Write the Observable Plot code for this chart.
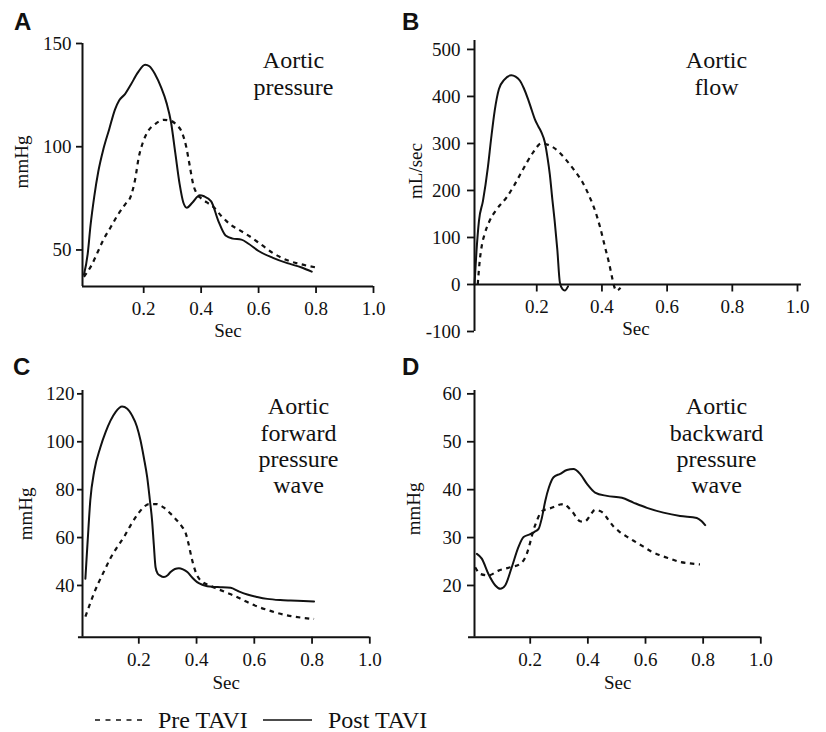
<!DOCTYPE html>
<html>
<head>
<meta charset="utf-8">
<script src="https://cdn.jsdelivr.net/npm/d3@7"></script>
<script src="https://cdn.jsdelivr.net/npm/@observablehq/plot@0.6"></script>
<style>
  html, body { margin: 0; padding: 0; background: #fff; }
  #wrap { position: relative; width: 826px; height: 732px; background: #fff; color: #111;
          font-family: "Liberation Serif", "Times New Roman", serif; overflow: hidden; }
  .panel { position: absolute; }
  .panel text { font-family: "Liberation Serif", "Times New Roman", serif; }
  .letter { position: absolute; font-family: "Liberation Sans", Arial, sans-serif; font-weight: bold;
            font-size: 24px; line-height: 24px; color: #111; }
  #legend { position: absolute; left: 0; top: 700px; }
</style>
</head>
<body>
<div id="wrap"></div>
<script>
// ---------- data (seconds, value) ----------
const xTicks = [0.2, 0.4, 0.6, 0.8, 1.0];
const pressureTicks = [50, 100, 150];
const flowTicks = [-100, 0, 100, 200, 300, 400, 500];
const forwardTicks = [40, 60, 80, 100, 120];
const backwardTicks = [20, 30, 40, 50, 60];

const panelLetters = ["A", "B", "C", "D"];
const panelTitles = ["Aortic\npressure", "Aortic\nflow", "Aortic\nforward\npressure\nwave", "Aortic\nbackward\npressure\nwave"];
const yLabels = ["mmHg", "mL/sec", "mmHg", "mmHg"];
const xLabel = "Sec";
const seriesNames = ["Pre TAVI", "Post TAVI"];

const pressurePre = [[-0.008,37],[0.02,43],[0.04,49],[0.06,55],[0.085,61],[0.11,67],[0.135,72],[0.155,76],[0.17,84],[0.183,95],[0.197,102],[0.215,107.5],[0.24,111],[0.27,113],[0.295,112.5],[0.315,110.5],[0.333,107],[0.348,100],[0.36,91],[0.372,82],[0.386,77],[0.4,75],[0.42,73],[0.445,70.5],[0.47,66.5],[0.5,62.5],[0.535,59.5],[0.57,56.5],[0.61,52.5],[0.65,48.5],[0.7,45],[0.75,43],[0.8,41.5]];
const pressurePost = [[-0.008,38],[0.005,48],[0.015,62],[0.028,76],[0.042,88],[0.06,99],[0.08,108.5],[0.1,118],[0.115,122.5],[0.135,125.5],[0.155,130],[0.18,136],[0.205,139.7],[0.22,139],[0.24,135],[0.26,129],[0.28,121],[0.295,112],[0.31,97],[0.325,82],[0.338,73],[0.35,70.5],[0.37,73],[0.395,76.5],[0.41,76],[0.435,73.5],[0.46,64],[0.485,57],[0.51,55.5],[0.54,55],[0.565,53],[0.6,49.5],[0.65,46.2],[0.7,43.6],[0.75,41.5],[0.785,39.5]];

const flowPre = [[0.019,0],[0.025,50],[0.032,85],[0.04,107],[0.055,135],[0.075,158],[0.107,185],[0.13,210],[0.15,235],[0.17,260],[0.19,282],[0.214,300],[0.235,297],[0.26,287],[0.29,265],[0.315,243],[0.34,218],[0.363,185],[0.38,155],[0.395,120],[0.41,78],[0.422,45],[0.432,12],[0.437,-3],[0.445,-13],[0.457,-7]];
const flowPost = [[0.009,0],[0.015,70],[0.0226,135],[0.035,178],[0.05,249],[0.06,310],[0.071,370],[0.084,416],[0.1,435],[0.122,445],[0.135,442],[0.148,434],[0.16,418],[0.173,395],[0.185,370],[0.194,352],[0.205,336],[0.214,324],[0.225,302],[0.233,270],[0.24,235],[0.248,180],[0.255,135],[0.263,75],[0.271,4],[0.279,-10],[0.286,-13],[0.296,-4]];

const forwardPre = [[0.015,27],[0.03,32],[0.044,36.5],[0.06,41],[0.08,46],[0.1,51],[0.125,56],[0.15,60.5],[0.171,65],[0.195,69.5],[0.217,72.7],[0.235,74],[0.26,74],[0.287,72.5],[0.31,70],[0.333,67],[0.35,64.5],[0.362,62],[0.372,57.5],[0.382,52],[0.393,47],[0.405,43.5],[0.42,41.5],[0.445,40],[0.472,38.6],[0.5,37.2],[0.529,35.8],[0.56,34],[0.587,32.4],[0.62,30.8],[0.645,29.8],[0.68,28.5],[0.714,27.5],[0.76,26.6],[0.807,26]];
const forwardPost = [[0.015,42.8],[0.019,51],[0.023,58.8],[0.032,75.5],[0.046,88],[0.067,97.7],[0.085,104],[0.102,108.8],[0.12,112.5],[0.142,114.7],[0.16,113.8],[0.177,110.9],[0.193,106.5],[0.206,100.5],[0.218,93],[0.229,85.2],[0.238,76],[0.246,67.1],[0.252,57],[0.258,47.6],[0.265,45],[0.273,44.2],[0.287,43.5],[0.3,44.3],[0.31,45.6],[0.325,46.9],[0.339,47.2],[0.353,46.7],[0.368,45.6],[0.385,43.3],[0.402,41.4],[0.42,40.3],[0.437,39.7],[0.46,39.4],[0.483,39.3],[0.518,39.0],[0.545,37.6],[0.576,36.2],[0.61,35.2],[0.645,34.4],[0.69,33.9],[0.726,33.7],[0.77,33.5],[0.807,33.3]];

const backwardPre = [[0.009,23.8],[0.027,22.4],[0.055,22.1],[0.09,23.1],[0.131,23.8],[0.165,24.5],[0.188,26.6],[0.2,29],[0.211,31.5],[0.223,33.5],[0.235,35.1],[0.25,35.8],[0.269,36.1],[0.29,36.6],[0.304,36.9],[0.318,37],[0.327,36.6],[0.34,35.8],[0.35,35.1],[0.362,34],[0.373,33.4],[0.385,33.3],[0.397,33.7],[0.41,34.8],[0.425,35.8],[0.44,35.6],[0.454,35.1],[0.47,33.8],[0.489,32.3],[0.51,31.2],[0.535,30.2],[0.565,29.1],[0.593,28.1],[0.62,27.1],[0.651,26.3],[0.685,25.6],[0.72,24.9],[0.755,24.6],[0.789,24.4]];
const backwardPost = [[0.015,26.6],[0.032,25.6],[0.055,22.4],[0.079,20],[0.096,19.3],[0.113,20],[0.136,23.8],[0.159,28],[0.177,30.1],[0.2,30.7],[0.215,31.2],[0.229,31.8],[0.24,34],[0.252,37.6],[0.265,40.5],[0.281,42.6],[0.304,43.3],[0.327,44.1],[0.35,44.3],[0.373,43.3],[0.397,41.2],[0.425,39.4],[0.466,38.7],[0.518,38.3],[0.558,37.3],[0.605,36.2],[0.662,35.2],[0.72,34.5],[0.778,34.1],[0.795,33.4],[0.807,32.6]];

// ---------- drawing ----------
const ink = "#111";
const serif = "Liberation Serif, Times New Roman, serif";
const rows = a => a.map(([t, v]) => ({t, v}));
const wrap = document.getElementById("wrap");

function panel(cfg) {
  const [mT, mR, mB, mL] = cfg.margins;
  const marks = [
    // y axis line
    Plot.ruleX([{x: cfg.xDomain[0]}], {x: "x", stroke: ink, strokeWidth: 2}),
    // x axis line
    Plot.ruleY([{y: cfg.xAxisAt, x1: cfg.xAxisFrom, x2: cfg.xAxisTo}], {y: "y", x1: "x1", x2: "x2", stroke: ink, strokeWidth: 2}),
    Plot.axisY({ticks: cfg.yTicks, tickFormat: d => String(d), tickSize: cfg.yTickSize, tickPadding: cfg.yTickPadding,
                fontSize: 19, fontFamily: serif, fontVariant: "normal", label: null, strokeWidth: 1.8}),
    Plot.line(rows(cfg.pre), {x: "t", y: "v", curve: "monotone-x", stroke: ink, strokeWidth: 2.2,
                              strokeDasharray: "4.5,4.5", strokeLinecap: "butt"}),
    Plot.line(rows(cfg.post), {x: "t", y: "v", curve: "monotone-x", stroke: ink, strokeWidth: 2}),
    Plot.text([cfg.title], {text: d => d, frameAnchor: "top-left", dx: cfg.titleDx, dy: cfg.titleDy,
                            lineAnchor: "top", textAnchor: "middle", fontSize: 24, lineHeight: 1.1,
                            fontFamily: serif, fill: ink}),
    Plot.text([cfg.yLabel], {text: d => d, frameAnchor: "left", rotate: -90, dx: cfg.yLabelDx, dy: cfg.yLabelDy,
                             textAnchor: "middle", lineAnchor: "middle", fontSize: 19, fontFamily: serif, fill: ink}),
    Plot.text([xLabel], {text: d => d, frameAnchor: "bottom", dy: cfg.secDy, textAnchor: "middle",
                         lineAnchor: "middle", fontSize: 19, fontFamily: serif, fill: ink})
  ];
  if (cfg.zeroAxis) {
    const tickSymbol = {draw(ctx) { ctx.moveTo(0, 0); ctx.lineTo(0, 7); }};
    marks.push(
      Plot.dot(xTicks, {x: d => d, y: cfg.xAxisAt, symbol: tickSymbol, r: 4, fill: "none", stroke: ink, strokeWidth: 1.8}),
      Plot.text(xTicks, {x: d => d, y: cfg.xAxisAt, text: d => d.toFixed(1), dy: 22, fontSize: 19,
                         fontFamily: serif, fill: ink})
    );
  } else {
    marks.push(Plot.axisX({ticks: xTicks, tickFormat: d => d.toFixed(1), tickSize: 7, tickPadding: 8,
                           fontSize: 19, fontFamily: serif, fontVariant: "normal", label: null, strokeWidth: 1.8}));
  }
  const svg = Plot.plot({
    width: cfg.width, height: cfg.height,
    marginTop: mT, marginRight: mR, marginBottom: mB, marginLeft: mL,
    x: {domain: cfg.xDomain, axis: cfg.zeroAxis ? null : undefined},
    y: {domain: cfg.yDomain},
    style: {fontFamily: serif, fontSize: "19px", color: ink, background: "transparent", overflow: "visible"},
    marks
  });
  svg.classList.add("panel");
  svg.style.left = cfg.left + "px";
  svg.style.top = cfg.top + "px";
  wrap.appendChild(svg);

  const letter = document.createElement("div");
  letter.className = "letter";
  letter.textContent = cfg.letter;
  letter.style.left = cfg.letterX + "px";
  letter.style.top = cfg.letterY + "px";
  wrap.appendChild(letter);
}

panel({
  letter: panelLetters[0], letterX: 14, letterY: 10,
  left: 0, top: 0, width: 413, height: 340, margins: [43, 40, 54, 82],
  xDomain: [-0.013, 1.0], yDomain: [32.3, 150], yTicks: pressureTicks, yTickSize: 6, yTickPadding: 5,
  xAxisAt: 32.3, xAxisFrom: -0.013, xAxisTo: 1.0,
  pre: pressurePre, post: pressurePost,
  title: panelTitles[0], titleDx: 211, titleDy: 6,
  yLabel: yLabels[0], yLabelDx: -61, yLabelDy: -3, secDy: 44
});

panel({
  letter: panelLetters[1], letterX: 402, letterY: 10,
  left: 413, top: 0, width: 413, height: 340, margins: [40, 29, 9, 61],
  xDomain: [0.009, 1.0], yDomain: [-100, 519], yTicks: flowTicks, yTickSize: 7, yTickPadding: 7,
  xAxisAt: 0, xAxisFrom: 0.009, xAxisTo: 1.012, zeroAxis: true,
  pre: flowPre, post: flowPost,
  title: panelTitles[1], titleDx: 242, titleDy: 9,
  yLabel: yLabels[1], yLabelDx: -59, yLabelDy: -15, secDy: -3
});

panel({
  letter: panelLetters[2], letterX: 13, letterY: 355,
  left: 0, top: 340, width: 413, height: 360, margins: [50, 43.7, 63.3, 82],
  xDomain: [0.005, 1.0], yDomain: [18.4, 121.4], yTicks: forwardTicks, yTickSize: 5, yTickPadding: 3,
  xAxisAt: 18.4, xAxisFrom: -0.009, xAxisTo: 1.0,
  pre: forwardPre, post: forwardPost,
  title: panelTitles[2], titleDx: 216, titleDy: 5,
  yLabel: yLabels[2], yLabelDx: -57, yLabelDy: 0, secDy: 46
});

panel({
  letter: panelLetters[3], letterX: 402, letterY: 355,
  left: 413, top: 340, width: 413, height: 360, margins: [50, 65.7, 63.3, 61],
  xDomain: [0.0067, 1.0], yDomain: [9.2, 60.7], yTicks: backwardTicks, yTickSize: 7, yTickPadding: 6,
  xAxisAt: 9.2, xAxisFrom: -0.014, xAxisTo: 1.0,
  pre: backwardPre, post: backwardPost,
  title: panelTitles[3], titleDx: 242, titleDy: 5,
  yLabel: yLabels[3], yLabelDx: -61, yLabelDy: -5, secDy: 46
});

// ---------- legend ----------
const ns = "http://www.w3.org/2000/svg";
const leg = document.createElementNS(ns, "svg");
leg.setAttribute("id", "legend");
leg.setAttribute("width", 826);
leg.setAttribute("height", 32);
const legendItems = [
  {name: seriesNames[0], dash: "5,5.5", x1: 95, x2: 143, tx: 158},
  {name: seriesNames[1], dash: null, x1: 263, x2: 312, tx: 328}
];
legendItems.forEach(it => {
  const l = document.createElementNS(ns, "line");
  l.setAttribute("x1", it.x1); l.setAttribute("x2", it.x2);
  l.setAttribute("y1", 20); l.setAttribute("y2", 20);
  l.setAttribute("stroke", ink); l.setAttribute("stroke-width", 1.6);
  if (it.dash) l.setAttribute("stroke-dasharray", it.dash);
  leg.appendChild(l);
  const t = document.createElementNS(ns, "text");
  t.setAttribute("x", it.tx); t.setAttribute("y", 28);
  t.setAttribute("font-family", serif); t.setAttribute("font-size", 24);
  t.setAttribute("fill", ink);
  t.textContent = it.name;
  leg.appendChild(t);
});
wrap.appendChild(leg);
</script>
</body>
</html>
